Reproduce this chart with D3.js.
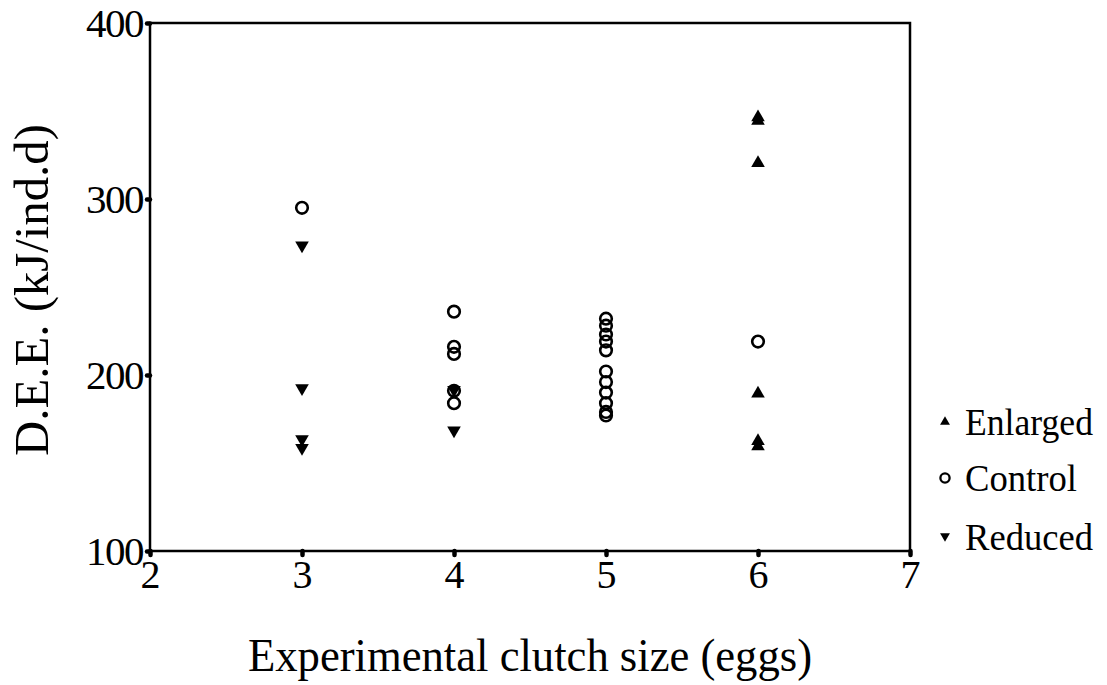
<!DOCTYPE html>
<html><head><meta charset="utf-8">
<script src="https://cdn.jsdelivr.net/npm/d3@7"></script>
<style>html,body{margin:0;padding:0;background:#fff;}svg{display:block;}</style>
</head><body>
<svg id="c" width="1107" height="685"></svg>
<script>
const xTicks = [2, 3, 4, 5, 6, 7];
const yTicks = [100, 200, 300, 400];
const seriesNames = ["Enlarged", "Control", "Reduced"];
const enlargedX = [6, 6, 6, 6, 6, 6];
const enlargedY = [347, 345, 321, 190, 163, 160];
const controlX = [3, 4, 4, 4, 4, 4, 5, 5, 5, 5, 5, 5, 5, 5, 5, 5, 5, 6];
const controlY = [295, 236, 216, 212, 191, 184, 232, 228, 223, 219, 214, 202, 196, 190, 184, 179, 177, 219];
const reducedX = [3, 3, 3, 3, 4, 4];
const reducedY = [273, 192, 163, 158, 191, 168];

const svg = d3.select("#c");
const font = "'Liberation Serif','Times New Roman',serif";
const x = d3.scaleLinear().domain([2, 7]).range([150, 910]);
const y = d3.scaleLinear().domain([100, 400]).range([551, 23]);

svg.append("rect").attr("x", x(2)).attr("y", y(400)).attr("width", x(7) - x(2)).attr("height", y(100) - y(400))
  .attr("fill", "none").attr("stroke", "#000").attr("stroke-width", 2.5);

const ya = svg.append("g").attr("transform", `translate(${x(2)},0)`)
  .call(d3.axisLeft(y).tickValues(yTicks).tickSize(3).tickPadding(4).tickFormat(d3.format("d")));
ya.select(".domain").remove();
ya.selectAll(".tick line").attr("stroke", "#000").attr("stroke-width", 4.5).attr("stroke-linecap", "round");
ya.selectAll(".tick text").attr("font-family", font).attr("font-size", 41).attr("fill", "#000").attr("dy", "0.34em").attr("letter-spacing", -1.5);

const xa = svg.append("g").attr("transform", `translate(0,${y(100)})`)
  .call(d3.axisBottom(x).tickValues(xTicks).tickSize(4).tickPadding(5).tickFormat(d3.format("d")));
xa.select(".domain").remove();
xa.selectAll(".tick line").attr("stroke", "#000").attr("stroke-width", 4.5).attr("stroke-linecap", "round");
xa.selectAll(".tick text").attr("font-family", font).attr("font-size", 40).attr("fill", "#000");

const yt = svg.append("g").attr("transform", `translate(48,${y(250) + 3}) rotate(-90)`);
const ytText = yt.append("text").attr("text-anchor", "middle")
  .attr("font-family", font).attr("font-size", 48).attr("fill", "#000").text("D.E.E. (kJ/ind.d)");
const ytw = ytText.node().getComputedTextLength();
ytText.attr("transform", `scale(${332 / ytw},1)`);

svg.append("text").attr("x", 530).attr("y", 671).attr("text-anchor", "middle")
  .attr("font-family", font).attr("font-size", 47).attr("fill", "#000")
  .attr("textLength", 564).attr("lengthAdjust", "spacingAndGlyphs").text("Experimental clutch size (eggs)");

const tri = d3.symbol().type(d3.symbolTriangle).size(80);
const triS = d3.symbol().type(d3.symbolTriangle).size(42);

const g = svg.append("g");
g.selectAll(".enl").data(enlargedY.map((v, i) => [enlargedX[i], v])).join("path")
  .attr("d", tri).attr("transform", d => `translate(${x(d[0])},${y(d[1]) + 1})`).attr("fill", "#000");
g.selectAll(".red").data(reducedY.map((v, i) => [reducedX[i], v])).join("path")
  .attr("d", tri).attr("transform", d => `translate(${x(d[0])},${y(d[1]) - 1}) rotate(180)`).attr("fill", "#000");
g.selectAll(".ctl").data(controlY.map((v, i) => [controlX[i], v])).join("circle")
  .attr("cx", d => x(d[0])).attr("cy", d => y(d[1])).attr("r", 5.8).attr("fill", "none")
  .attr("stroke", "#000").attr("stroke-width", 2.6);

const legY = [422, 478, 537];
const legW = [128, 112, 128];
const leg = svg.append("g");
seriesNames.forEach((n, i) => {
  const ly = legY[i];
  if (i === 0) leg.append("path").attr("d", triS).attr("transform", `translate(945,${ly})`).attr("fill", "#000");
  if (i === 1) leg.append("circle").attr("cx", 945).attr("cy", ly).attr("r", 4.6).attr("fill", "none").attr("stroke", "#000").attr("stroke-width", 2.3);
  if (i === 2) leg.append("path").attr("d", triS).attr("transform", `translate(945,${ly - 1}) rotate(180)`).attr("fill", "#000");
  leg.append("text").attr("x", 965).attr("y", ly + 13).attr("font-family", font).attr("font-size", 38)
    .attr("textLength", legW[i]).attr("lengthAdjust", "spacingAndGlyphs").attr("fill", "#000").text(n);
});
</script>
</body></html>
